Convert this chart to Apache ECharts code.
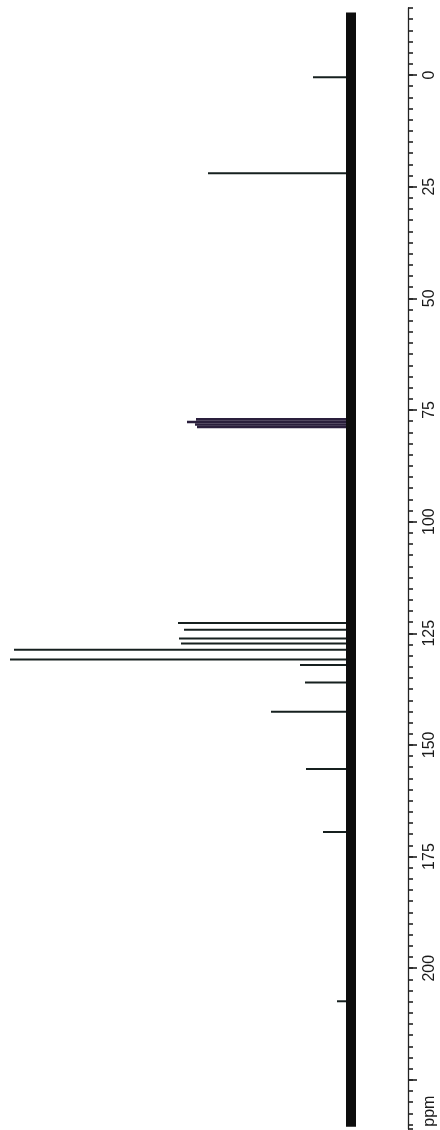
<!DOCTYPE html>
<html><head><meta charset="utf-8">
<script src="https://cdn.jsdelivr.net/npm/echarts@6/dist/echarts.min.js"></script>
<style>html,body{margin:0;padding:0;background:#fff}#c{width:440px;height:1130px}</style>
</head><body><div id="c"></div>
<script>
// Chemical shifts (ppm) and relative intensities of the peaks
const peakShifts = [0.5, 22.0, 77.1, 77.7, 78.25, 78.8, 122.7, 124.2, 126.2, 127.3, 128.7, 130.9, 132.1, 136.0, 142.6, 155.4, 169.5, 207.4];
const peakIntensities = [38, 143, 155, 164, 156, 154, 173, 167, 172, 170, 337, 341, 51, 46, 80, 45, 28, 14];
// Axis ticks / labels
const majorTicks = [0, 25, 50, 75, 100, 125, 150, 175, 200, 225];
const labelValues = [0, 25, 50, 75, 100, 125, 150, 175, 200, 232];
const labelTexts = ['0', '25', '50', '75', '100', '125', '150', '175', '200', 'ppm'];
const shiftMin = -15, shiftMax = 236, minorStep = 2.5;
const intensityMin = -57, intensityMax = 341;
const baselineShifts = [-14, 235.5];

const chart = echarts.init(document.getElementById('c'), null, {renderer: 'canvas'});
const labelFont = {fontFamily: '"Liberation Sans",Arial,sans-serif', fontSize: 16, color: '#1a1a1a'};

chart.setOption({
  animation: false,
  backgroundColor: '#ffffff',
  grid: {left: 10, right: 32, top: 8, height: 1121, outerBoundsMode: 'none', containLabel: false},
  xAxis: {
    type: 'value', inverse: true, min: intensityMin, max: intensityMax,
    show: false
  },
  yAxis: [
    {
      type: 'value', inverse: true, position: 'right', min: shiftMin, max: shiftMax,
      axisLine: {show: true, onZero: false, lineStyle: {color: '#222', width: 1.3}},
      axisTick: {show: true, length: 9, lineStyle: {color: '#222', width: 1.6}, customValues: majorTicks},
      axisLabel: {
        show: true, rotate: 90, margin: 14, customValues: labelValues,
        align: 'center', verticalAlign: 'top',
        formatter: v => { const i = labelValues.indexOf(v); return i >= 0 ? labelTexts[i] : ''; },
        ...labelFont
      },
      splitLine: {show: false}
    },
    {
      type: 'value', inverse: true, position: 'right', min: shiftMin, max: shiftMax, interval: minorStep,
      axisLine: {show: false, onZero: false},
      axisTick: {show: true, length: 5, lineStyle: {color: '#222', width: 1.6}},
      axisLabel: {show: false},
      splitLine: {show: false}
    }
  ],
  series: [
    {
      type: 'custom',
      yAxisIndex: 0,
      data: peakIntensities.map((h, i) => [h, peakShifts[i]]),
      encode: {x: 0, y: 1},
      renderItem: function (params, api) {
        const s = api.value(1), h = api.value(0);
        const p0 = api.coord([0, s]), p1 = api.coord([h, s]);
        const solvent = s > 76 && s < 80;
        return {
          type: 'line',
          shape: {x1: p0[0], y1: p0[1], x2: p1[0], y2: p1[1]},
          style: {stroke: solvent ? '#2a1f3c' : '#16201f', lineWidth: solvent ? 2.6 : 2}
        };
      },
      z: 2
    },
    {
      type: 'line',
      yAxisIndex: 0,
      data: baselineShifts.map(s => [0, s]),
      symbol: 'none',
      lineStyle: {color: '#0d0d0d', width: 10},
      z: 3
    }
  ]
});
</script></body></html>
